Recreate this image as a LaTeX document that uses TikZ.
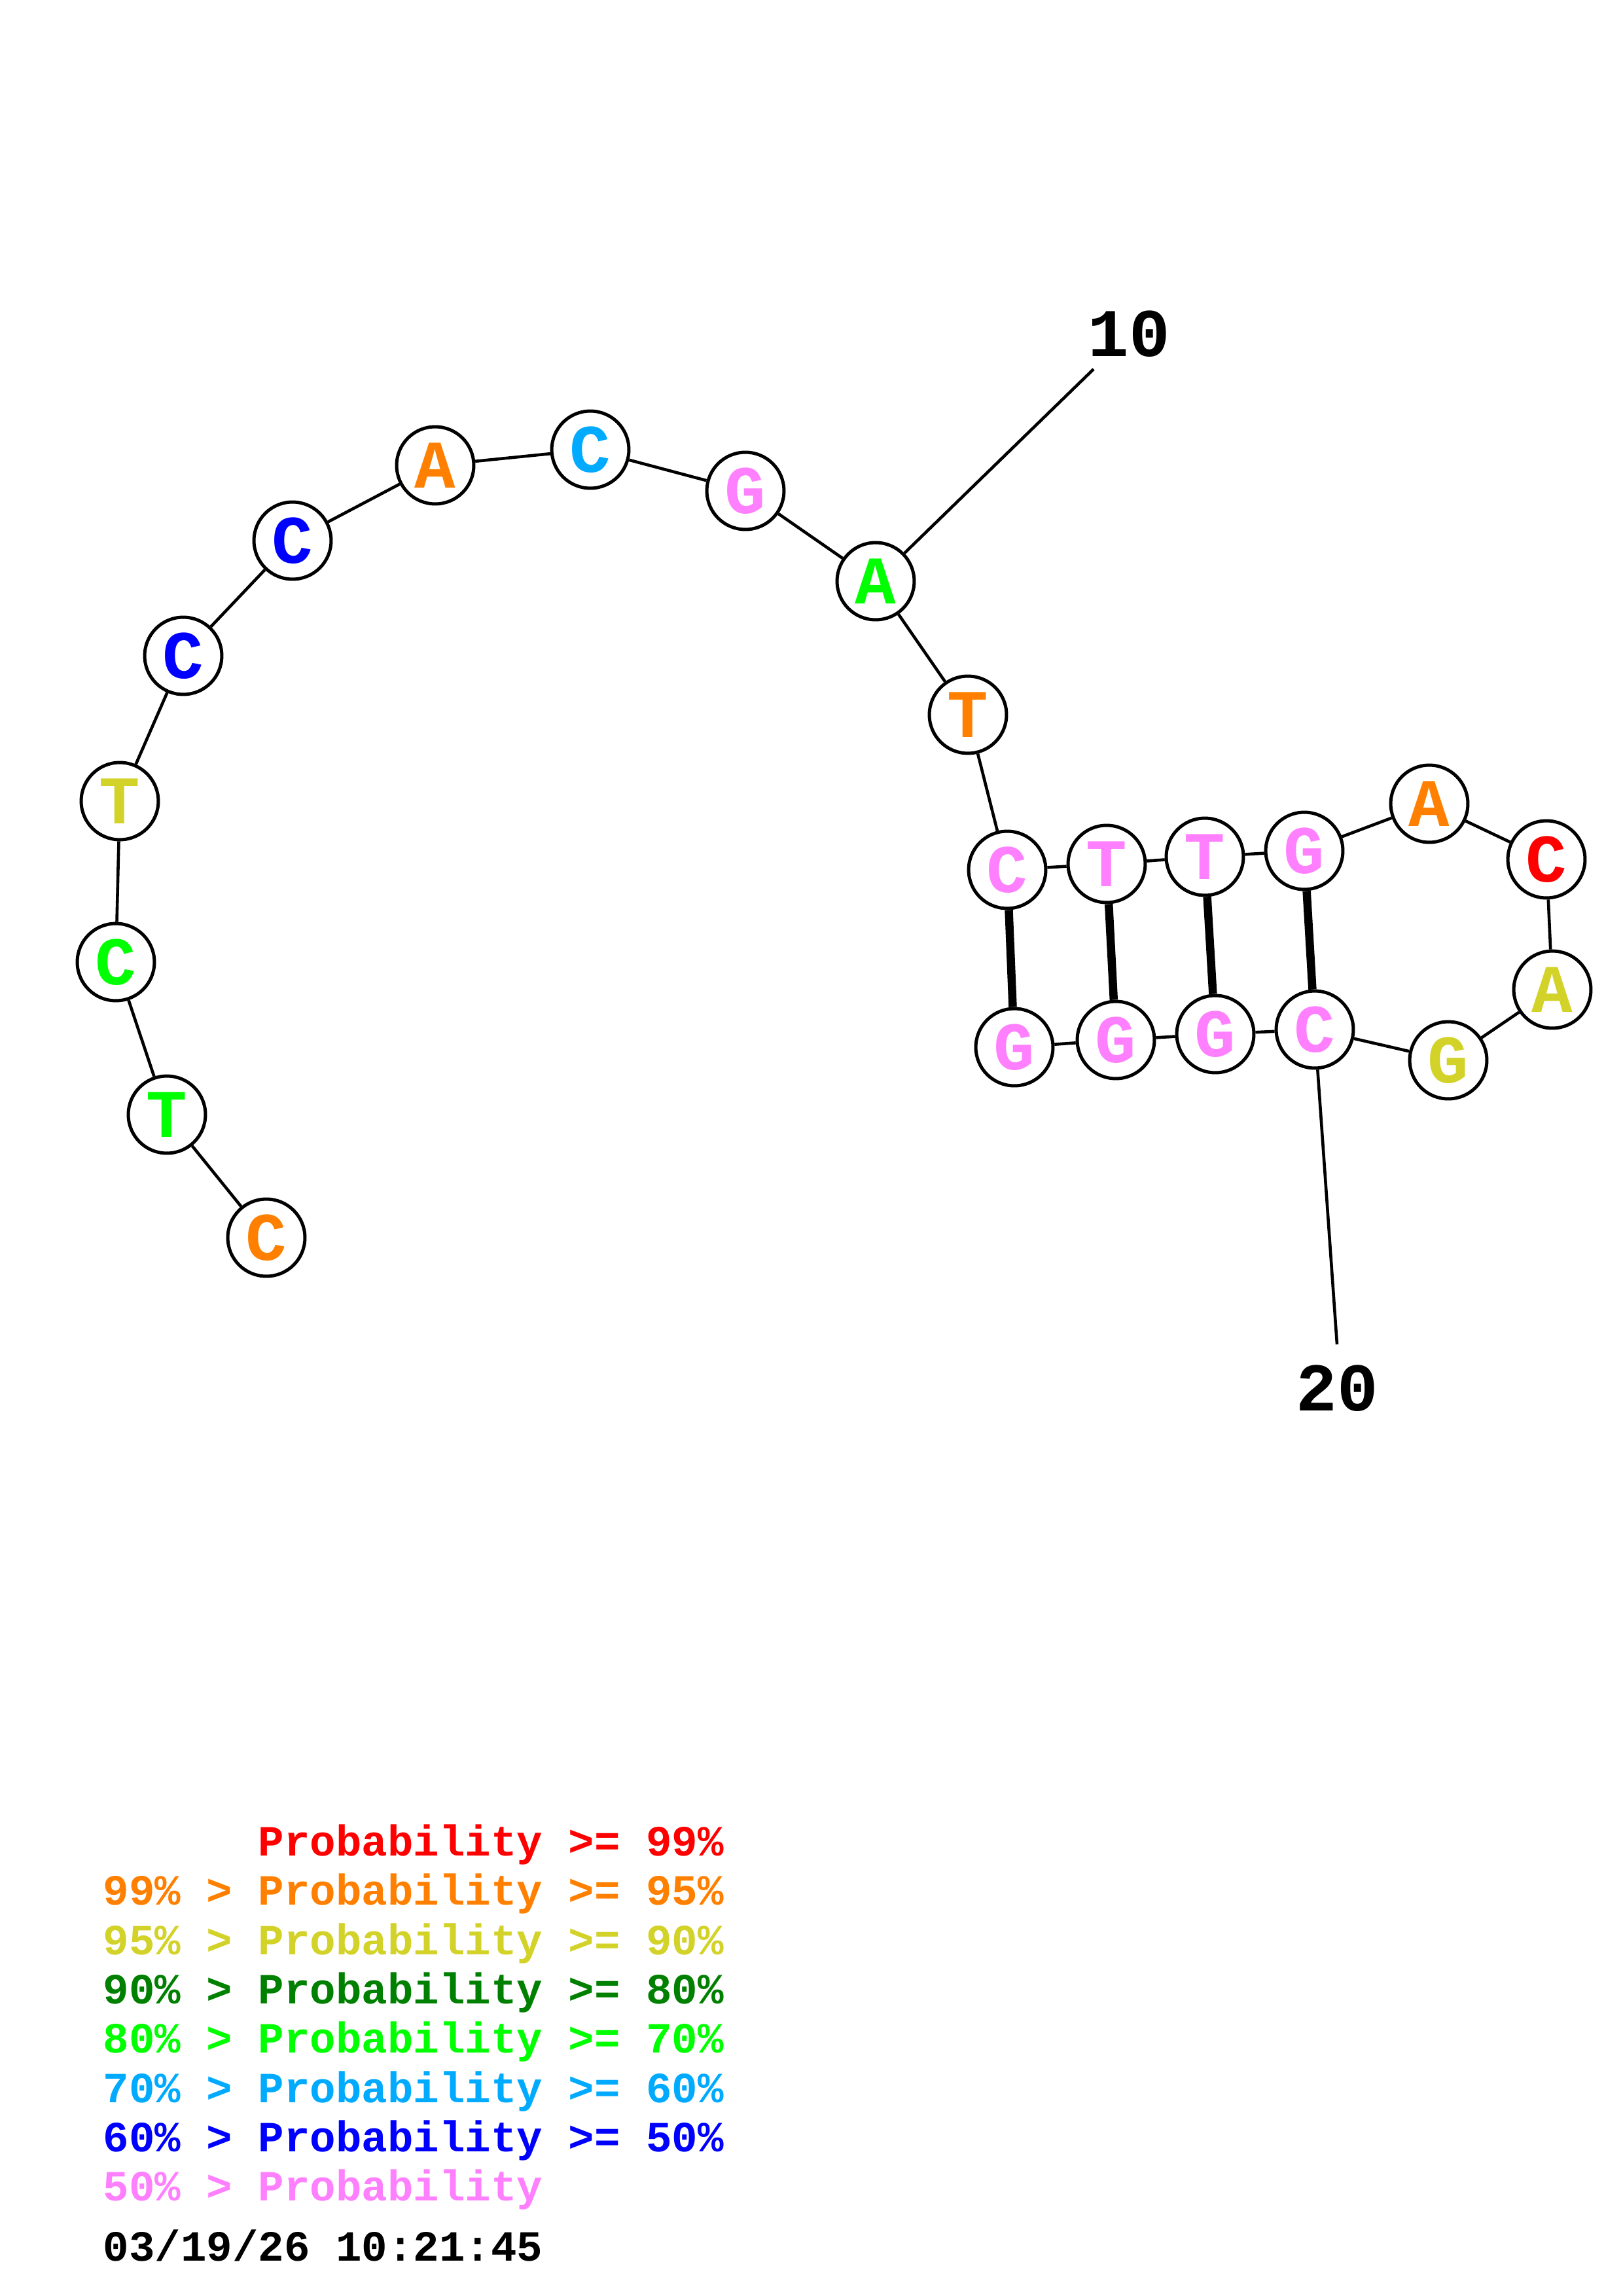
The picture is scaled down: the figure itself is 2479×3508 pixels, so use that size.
\documentclass[tikz,border=0pt]{standalone}
\usepackage{fontspec}
\setmonofont{Liberation Mono}
\usepackage{xcolor}

\definecolor{pr99}{RGB}{255,0,0}
\definecolor{pr95}{RGB}{255,128,0}
\definecolor{pr90}{RGB}{210,210,40}
\definecolor{pr80}{RGB}{0,128,0}
\definecolor{pr70}{RGB}{0,255,0}
\definecolor{pr60}{RGB}{0,170,255}
\definecolor{pr50}{RGB}{0,0,255}
\definecolor{prlow}{RGB}{255,128,255}

\begin{document}
\begin{tikzpicture}[x=0.24pt, y=-0.24pt,
        base/.style={circle, draw=black, line width=1.2pt, fill=white, minimum size=28.3pt, inner sep=0pt, font=\ttfamily\bfseries\fontsize{25}{25}\selectfont},
        backbone/.style={line width=1.1pt},
        pair/.style={line width=3pt},
        numline/.style={line width=1.1pt},
        number/.style={inner sep=0pt, font=\ttfamily\bfseries\fontsize{25}{25}\selectfont},
        legend/.style={anchor=base west, inner sep=0pt, font=\ttfamily\bfseries\fontsize{15.8}{15.8}\selectfont}
    ]
        \useasboundingbox (0,0) rectangle (2479,3508);

        % Bases
        \node[base, text=pr95] (b1) at (407,1891) {C};
        \node[base, text=pr70] (b2) at (255,1703) {T};
        \node[base, text=pr70] (b3) at (177,1470) {C};
        \node[base, text=pr90] (b4) at (183,1224) {T};
        \node[base, text=pr50] (b5) at (280,1002) {C};
        \node[base, text=pr50] (b6) at (447,826) {C};
        \node[base, text=pr95] (b7) at (665,711) {A};
        \node[base, text=pr60] (b8) at (902,687) {C};
        \node[base, text=prlow] (b9) at (1139,750) {G};
        \node[base, text=pr70] (b10) at (1338,888) {A};
        \node[base, text=pr95] (b11) at (1479,1092) {T};
        \node[base, text=prlow] (b12) at (1539,1329) {C};
        \node[base, text=prlow] (b13) at (1691,1320) {T};
        \node[base, text=prlow] (b14) at (1841,1309) {T};
        \node[base, text=prlow] (b15) at (1993,1300) {G};
        \node[base, text=pr95] (b16) at (2184,1228) {A};
        \node[base, text=pr99] (b17) at (2363,1313) {C};
        \node[base, text=pr90] (b18) at (2372,1512) {A};
        \node[base, text=pr90] (b19) at (2213,1620) {G};
        \node[base, text=prlow] (b20) at (2009,1573) {C};
        \node[base, text=prlow] (b21) at (1857,1580) {G};
        \node[base, text=prlow] (b22) at (1705,1589) {G};
        \node[base, text=prlow] (b23) at (1550,1600) {G};

        % Numbering
        \node[number] (n10) at (1725,510) {10};
        \node[number] (n20) at (2043,2121) {20};
        \coordinate (t10) at (1671,564);
        \coordinate (t20) at (2043,2054);

        % Backbone
        \draw[backbone] (b1) -- (b2) -- (b3) -- (b4) -- (b5) -- (b6) -- (b7) -- (b8) -- (b9) -- (b10) -- (b11)
            -- (b12) -- (b13) -- (b14) -- (b15) -- (b16) -- (b17) -- (b18) -- (b19) -- (b20) -- (b21) -- (b22) -- (b23);
        \draw[numline] (b10) -- (t10);
        \draw[numline] (b20) -- (t20);

        % Pairs
        \draw[pair] (b12) -- (b23);
        \draw[pair] (b13) -- (b22);
        \draw[pair] (b14) -- (b21);
        \draw[pair] (b15) -- (b20);

        % Legend
        \node[legend, text=pr99] (l1) at (157,2835) {\phantom{99\% > }Probability >= 99\%};
        \node[legend, text=pr95] (l2) at (157,2910) {99\% > Probability >= 95\%};
        \node[legend, text=pr90] (l3) at (157,2986) {95\% > Probability >= 90\%};
        \node[legend, text=pr80] (l4) at (157,3061) {90\% > Probability >= 80\%};
        \node[legend, text=pr70] (l5) at (157,3136) {80\% > Probability >= 70\%};
        \node[legend, text=pr60] (l6) at (157,3212) {70\% > Probability >= 60\%};
        \node[legend, text=pr50] (l7) at (157,3287) {60\% > Probability >= 50\%};
        \node[legend, text=prlow] (l8) at (157,3362) {50\% > Probability};
        \node[legend, text=black] (date) at (157,3454) {03/19/26 10:21:45};
    \end{tikzpicture}
\end{document}
